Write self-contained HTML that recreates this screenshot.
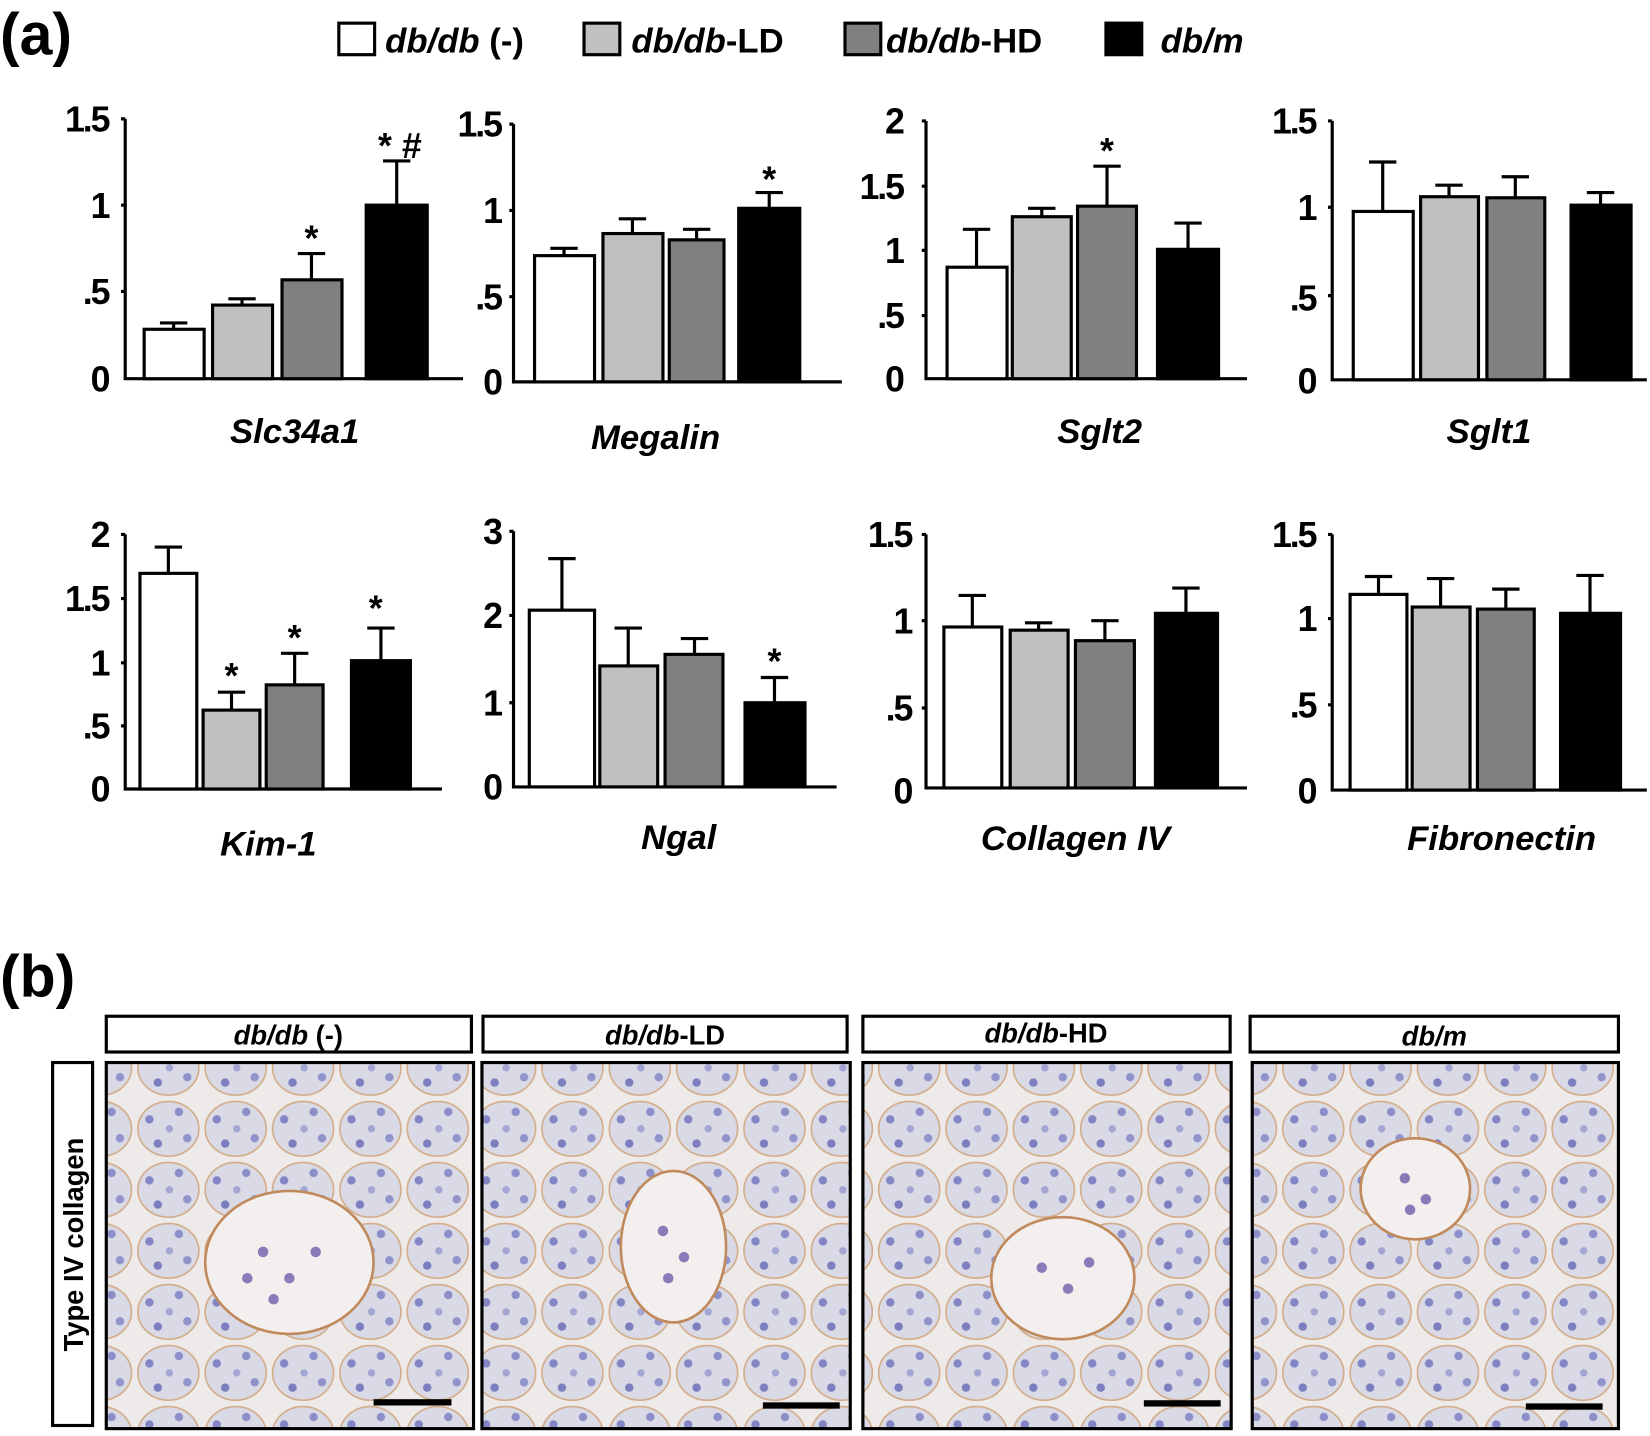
<!DOCTYPE html>
<html><head><meta charset="utf-8"><style>
html,body{margin:0;padding:0;background:#fff}
svg{display:block}
text{font-family:"Liberation Sans Narrow","Liberation Sans",sans-serif;font-weight:bold}
.t{font-size:34px;text-anchor:end;letter-spacing:-2px}
.l{font-size:33px;font-style:italic;text-anchor:middle}
.s{font-size:34px;text-anchor:middle}
</style></head><body>
<svg width="1650" height="1436" viewBox="0 0 1568 1365" preserveAspectRatio="none" xmlns="http://www.w3.org/2000/svg">
<defs>
<pattern id="tis" width="64" height="58" patternUnits="userSpaceOnUse">
<rect width="64" height="58" fill="#efeaea"/>
<ellipse cx="32" cy="29" rx="29" ry="26" fill="#d9dae5" stroke="#d2ab88" stroke-width="1.5"/>
<circle cx="14" cy="20" r="4" fill="#8385c4"/><circle cx="42" cy="13" r="4" fill="#8c8ec9"/>
<circle cx="22" cy="43" r="4" fill="#7c7ebf"/><circle cx="50" cy="38" r="4" fill="#9193cb"/>
<circle cx="33" cy="29" r="3.5" fill="#a3a5d3"/>
</pattern>
</defs>
<text x="0" y="52" style="font-size:56px;font-family:'Liberation Sans',sans-serif">(a)</text>
<g stroke="#000" stroke-width="3">
<rect x="322" y="22" width="34" height="30" fill="#fff"/>
<rect x="555" y="22" width="34" height="30" fill="#c0c0c0"/>
<rect x="803" y="22" width="34" height="30" fill="#808080"/>
<rect x="1051" y="22" width="34" height="30" fill="#000"/>
</g>
<g style="font-size:33px">
<text x="366" y="50"><tspan font-style="italic">db/db</tspan> (-)</text>
<text x="600" y="50"><tspan font-style="italic">db/db</tspan>-LD</text>
<text x="842" y="50"><tspan font-style="italic">db/db</tspan>-HD</text>
<text x="1103" y="50" font-style="italic">db/m</text>
</g>

<g stroke="#000" stroke-width="3">
<path d="M119 113V360H440M119 113h-4M119 195h-4M119 277h-4" fill="none"/>
<rect x="137" y="313" width="57" height="47" fill="#fff"/>
<rect x="202" y="290" width="57" height="70" fill="#c0c0c0"/>
<rect x="268" y="266" width="57" height="94" fill="#808080"/>
<rect x="348" y="195" width="58" height="165" fill="#000"/>
<path d="M165 313V307M152 307h26M230 290V284M217 284h26M296 266V241M283 241h26M377 195V153M364 153h26" fill="none"/>
<path d="M488 118V363H800M488 118h-4M488 200h-4M488 282h-4" fill="none"/>
<rect x="508" y="243" width="57" height="120" fill="#fff"/>
<rect x="573" y="222" width="57" height="141" fill="#c0c0c0"/>
<rect x="636" y="228" width="52" height="135" fill="#808080"/>
<rect x="702" y="198" width="58" height="165" fill="#000"/>
<path d="M536 243V236M523 236h26M601 222V208M588 208h26M662 228V218M649 218h26M731 198V183M718 183h26" fill="none"/>
<path d="M880 115V360H1185M880 115h-4M880 177h-4M880 238h-4M880 300h-4" fill="none"/>
<rect x="900" y="254" width="57" height="106" fill="#fff"/>
<rect x="962" y="206" width="56" height="154" fill="#c0c0c0"/>
<rect x="1024" y="196" width="56" height="164" fill="#808080"/>
<rect x="1100" y="237" width="58" height="123" fill="#000"/>
<path d="M928 254V218M915 218h26M990 206V198M977 198h26M1052 196V158M1039 158h26M1129 237V212M1116 212h26" fill="none"/>
<path d="M1266 115V361H1565M1266 115h-4M1266 197h-4M1266 281h-4" fill="none"/>
<rect x="1286" y="201" width="57" height="160" fill="#fff"/>
<rect x="1350" y="187" width="55" height="174" fill="#c0c0c0"/>
<rect x="1413" y="188" width="55" height="173" fill="#808080"/>
<rect x="1493" y="195" width="57" height="166" fill="#000"/>
<path d="M1314 201V154M1301 154h26M1377 187V176M1364 176h26M1440 188V168M1427 168h26M1521 195V183M1508 183h26" fill="none"/>
<path d="M119 508V750H420M119 508h-4M119 569h-4M119 630h-4M119 690h-4" fill="none"/>
<rect x="133" y="545" width="54" height="205" fill="#fff"/>
<rect x="193" y="675" width="54" height="75" fill="#c0c0c0"/>
<rect x="253" y="651" width="54" height="99" fill="#808080"/>
<rect x="334" y="628" width="56" height="122" fill="#000"/>
<path d="M160 545V520M147 520h26M220 675V658M207 658h26M280 651V621M267 621h26M362 628V597M349 597h26" fill="none"/>
<path d="M488 505V748H795M488 505h-4M488 585h-4M488 668h-4" fill="none"/>
<rect x="503" y="580" width="62" height="168" fill="#fff"/>
<rect x="570" y="633" width="55" height="115" fill="#c0c0c0"/>
<rect x="632" y="622" width="55" height="126" fill="#808080"/>
<rect x="708" y="668" width="57" height="80" fill="#000"/>
<path d="M534 580V531M521 531h26M597 633V597M584 597h26M660 622V607M647 607h26M736 668V644M723 644h26" fill="none"/>
<path d="M880 508V749H1185M880 508h-4M880 590h-4M880 673h-4" fill="none"/>
<rect x="897" y="596" width="55" height="153" fill="#fff"/>
<rect x="960" y="599" width="55" height="150" fill="#c0c0c0"/>
<rect x="1022" y="609" width="56" height="140" fill="#808080"/>
<rect x="1098" y="583" width="59" height="166" fill="#000"/>
<path d="M924 596V566M911 566h26M987 599V592M974 592h26M1050 609V590M1037 590h26M1127 583V559M1114 559h26" fill="none"/>
<path d="M1266 508V751H1565M1266 508h-4M1266 588h-4M1266 670h-4" fill="none"/>
<rect x="1283" y="565" width="54" height="186" fill="#fff"/>
<rect x="1342" y="577" width="55" height="174" fill="#c0c0c0"/>
<rect x="1404" y="579" width="54" height="172" fill="#808080"/>
<rect x="1483" y="583" width="57" height="168" fill="#000"/>
<path d="M1310 565V548M1297 548h26M1369 577V550M1356 550h26M1431 579V560M1418 560h26M1511 583V547M1498 547h26" fill="none"/>
</g>
<text class="t" x="103" y="125">1.5</text><text class="t" x="103" y="207">1</text><text class="t" x="103" y="289">.5</text><text class="t" x="103" y="372">0</text>
<text class="t" x="476" y="130">1.5</text><text class="t" x="476" y="212">1</text><text class="t" x="476" y="294">.5</text><text class="t" x="476" y="375">0</text>
<text class="t" x="858" y="127">2</text><text class="t" x="858" y="189">1.5</text><text class="t" x="858" y="250">1</text><text class="t" x="858" y="312">.5</text><text class="t" x="858" y="372">0</text>
<text class="t" x="1250" y="127">1.5</text><text class="t" x="1250" y="209">1</text><text class="t" x="1250" y="295">.5</text><text class="t" x="1250" y="374">0</text>
<text class="t" x="103" y="520">2</text><text class="t" x="103" y="581">1.5</text><text class="t" x="103" y="642">1</text><text class="t" x="103" y="702">.5</text><text class="t" x="103" y="762">0</text>
<text class="t" x="476" y="517">3</text><text class="t" x="476" y="597">2</text><text class="t" x="476" y="680">1</text><text class="t" x="476" y="760">0</text>
<text class="t" x="866" y="520">1.5</text><text class="t" x="866" y="602">1</text><text class="t" x="866" y="685">.5</text><text class="t" x="866" y="764">0</text>
<text class="t" x="1250" y="520">1.5</text><text class="t" x="1250" y="600">1</text><text class="t" x="1250" y="682">.5</text><text class="t" x="1250" y="764">0</text>
<text class="s" x="296" y="238">*</text><text class="s" x="380" y="150">* #</text>
<text class="s" x="731" y="182">*</text><text class="s" x="1052" y="155">*</text>
<text class="s" x="220" y="654">*</text><text class="s" x="280" y="618">*</text><text class="s" x="357" y="590">*</text><text class="s" x="736" y="640">*</text>
<text class="l" x="280" y="421">Slc34a1</text><text class="l" x="623" y="427">Megalin</text>
<text class="l" x="1045" y="421">Sglt2</text><text class="l" x="1415" y="421">Sglt1</text>
<text class="l" x="255" y="813">Kim-1</text><text class="l" x="645" y="807">Ngal</text>
<text class="l" x="1022" y="808">Collagen IV</text><text class="l" x="1427" y="808">Fibronectin</text>

<text x="0" y="947" style="font-size:56px;font-family:'Liberation Sans',sans-serif">(b)</text>
<g stroke="#000" stroke-width="3">
<rect x="101" y="966" width="347" height="34" fill="#fff"/>
<rect x="459" y="966" width="346" height="34" fill="#fff"/>
<rect x="820" y="966" width="349" height="34" fill="#fff"/>
<rect x="1188" y="966" width="350" height="34" fill="#fff"/>
<rect x="50" y="1010" width="38" height="345" fill="#fff"/>
<rect x="101" y="1010" width="349" height="348" fill="url(#tis)"/>
<rect x="458" y="1010" width="350" height="348" fill="url(#tis)"/>
<rect x="820" y="1010" width="350" height="348" fill="url(#tis)"/>
<rect x="1190" y="1010" width="348" height="348" fill="url(#tis)"/>
</g>
<g fill="#f3efee" stroke="#c08a5c" stroke-width="2.5">
<ellipse cx="275" cy="1200" rx="80" ry="68"/><ellipse cx="640" cy="1185" rx="50" ry="72"/>
<ellipse cx="1010" cy="1215" rx="68" ry="58"/><ellipse cx="1345" cy="1130" rx="52" ry="48"/>
</g>
<g fill="#8a7ab8">
<circle cx="250" cy="1190" r="5"/><circle cx="275" cy="1215" r="5"/><circle cx="300" cy="1190" r="5"/><circle cx="260" cy="1235" r="5"/><circle cx="235" cy="1215" r="5"/>
<circle cx="630" cy="1170" r="5"/><circle cx="650" cy="1195" r="5"/><circle cx="635" cy="1215" r="5"/>
<circle cx="990" cy="1205" r="5"/><circle cx="1015" cy="1225" r="5"/><circle cx="1035" cy="1200" r="5"/>
<circle cx="1335" cy="1120" r="5"/><circle cx="1355" cy="1140" r="5"/><circle cx="1340" cy="1150" r="5"/>
</g>
<g fill="#000">
<rect x="355" y="1330" width="74" height="6"/><rect x="725" y="1333" width="73" height="6"/>
<rect x="1087" y="1331" width="73" height="6"/><rect x="1450" y="1334" width="73" height="6"/>
</g>
<g style="font-size:26px;text-anchor:middle">
<text x="274" y="993"><tspan font-style="italic">db/db</tspan> (-)</text>
<text x="632" y="993"><tspan font-style="italic">db/db</tspan>-LD</text>
<text x="994" y="991"><tspan font-style="italic">db/db</tspan>-HD</text>
<text x="1363" y="994" font-style="italic">db/m</text>
<text transform="translate(79,1183) rotate(-90)" style="font-family:'Liberation Sans',sans-serif">Type IV collagen</text>
</g>
</svg>
</body></html>
